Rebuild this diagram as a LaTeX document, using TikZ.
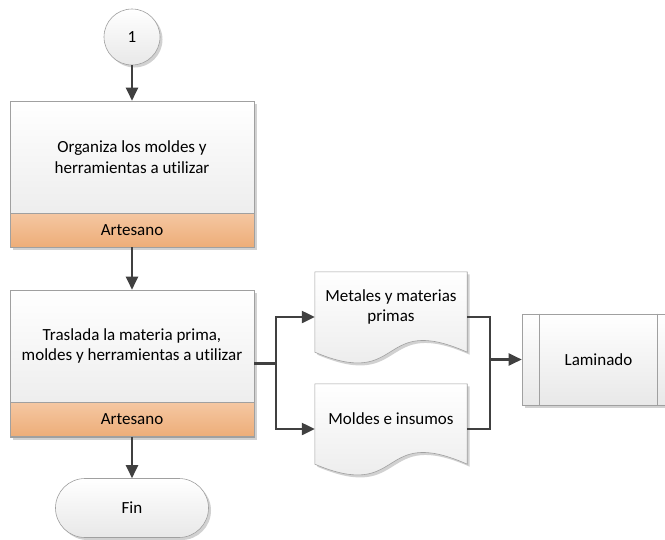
\documentclass[tikz,border=0pt]{standalone}
\usepackage{fontspec}
\setmainfont{Carlito}[Ligatures={NoCommon}]
\usetikzlibrary{shadows,arrows.meta,calc}
\definecolor{linec}{HTML}{404040}
\definecolor{bordc}{HTML}{A0A0A0}
\definecolor{orgtop}{HTML}{F5C7A2}
\definecolor{orgbot}{HTML}{EDAD78}
\begin{document}
\begin{tikzpicture}[x=1pt,y=-1pt,
  font=\fontsize{17}{20.5}\selectfont,
  shd/.style={drop shadow={shadow xshift=2.5pt,shadow yshift=-2.5pt,fill=black,opacity=0.18}},
  graybox/.style={draw=bordc,line width=0.6pt,top color=white,bottom color=black!9,shd},
  procbox/.style={graybox,rectangle,minimum width=244pt,inner sep=0pt},
  band/.style={draw=bordc,line width=0.6pt,rectangle,minimum width=244pt,minimum height=34pt,top color=orgtop,bottom color=orgbot,inner sep=0pt},
  txt/.style={align=center,inner sep=0pt},
  arr/.style={draw=linec,line width=2.3pt,-{Triangle[length=13pt,width=12pt]}},
  conn/.style={draw=linec,line width=2.3pt}]
\useasboundingbox (0,0) rectangle (665,539);
\clip (0,0) rectangle (665,539);
\fill[white] (0,0) rectangle (665,539);

% start connector
\node[graybox,circle,minimum size=56pt,inner sep=0pt] (c1) at (132,37) {1};

% box 1
\node[procbox,minimum height=146pt] (b1) at (132,174) {};
\node[band] (b1r) at (132,230) {Artesano};
\node[txt] (b1t) at (132,157) {Organiza los moldes y\\herramientas a utilizar};

% box 2
\node[procbox,minimum height=147pt] (b2) at (132,363.5) {};
\node[band] (b2r) at (132,419.5) {Artesano};
\node[txt] (b2t) at (132,346) {Traslada la materia prima,\\moldes y herramientas a utilizar};

% end
\node[graybox,rectangle,rounded corners=29.5pt,minimum width=153pt,minimum height=59pt,inner sep=0pt] (fin) at (132,508) {Fin};

% documents
\node[minimum width=152pt,minimum height=90pt,inner sep=0pt] (d1) at (391,317) {};
\node[minimum width=152pt,minimum height=90pt,inner sep=0pt] (d2) at (391,429) {};
\foreach \d in {d1,d2}{
  \path[graybox] (\d.north west) -- (\d.north east) -- ($(\d.south east)+(0,-10)$)
    .. controls ($(\d.south east)+(-90,-50)$) and ($(\d.south west)+(90,28)$) .. ($(\d.south west)+(0,-10)$) -- cycle;
}
\node[txt] (d1t) at (391,307) {Metales y materias\\primas};
\node[txt] (d2t) at (391,419) {Moldes e insumos};

% subprocess
\node[graybox,rectangle,minimum width=153pt,minimum height=91pt,inner sep=0pt] (lam) at (598.5,359.5) {};
\draw[bordc,line width=0.6pt] ($(lam.north west)+(18,0)$) -- ($(lam.south west)+(18,0)$);
\draw[bordc,line width=0.6pt] ($(lam.north east)+(-18,0)$) -- ($(lam.south east)+(-18,0)$);
\node[txt] (lamt) at (lam.center) {Laminado};

% connectors
\draw[arr] (c1.south) -- (b1.north);
\draw[arr] (b1r.south) -- (b2.north);
\draw[arr] (b2r.south) -- (fin.north);
\draw[conn] (b2.east) -- ++(22,0) coordinate (f1);
\draw[arr] (f1) |- (d1.west);
\draw[arr] (f1) |- (d2.west);
\draw[conn] (d1.east) -- ++(23,0) coordinate (j1) |- (d2.east);
\draw[arr] (j1 |- lam.west) -- (lam.west);
\end{tikzpicture}
\end{document}
